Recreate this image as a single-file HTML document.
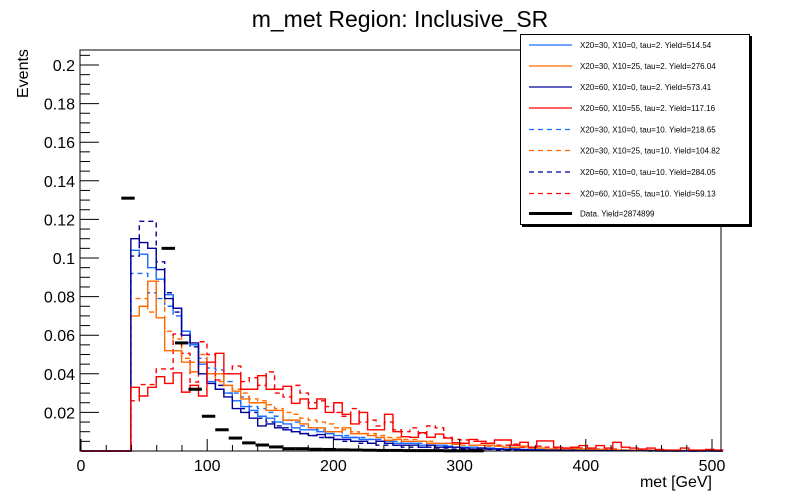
<!DOCTYPE html>
<html><head><meta charset="utf-8"><style>
html,body{margin:0;padding:0;background:#fff;}
svg{display:block;font-family:"Liberation Sans",Arial,sans-serif;}
</style></head><body>
<svg id="chart" width="800" height="500" viewBox="0 0 800 500">
<rect x="0" y="0" width="800" height="500" fill="#fff"/>
<text x="400" y="27" text-anchor="middle" font-size="23">m_met Region: Inclusive_SR</text>
<text transform="translate(28,98) rotate(-90)" font-size="16">Events</text>
<text x="712" y="487" text-anchor="end" font-size="16">met [GeV]</text>
<g id="marks"></g>
<g id="axes"></g>
<rect x="80" y="50" width="641" height="401" fill="none" stroke="#000" stroke-width="1"/>
<g id="legend"></g>
</svg>
<script>
const binLow = 39.5;
const binWidth = 6.7;
const dataBinLow = 0;
const dataBinWidth = 10.64;
const xTicks = [0,100,200,300,400,500];
const yTicks = [0.02,0.04,0.06,0.08,0.1,0.12,0.14,0.16,0.18,0.2];
const yTickLabels = ["0.02","0.04","0.06","0.08","0.1","0.12","0.14","0.16","0.18","0.2"];
const seriesNames = ["X20=30, X10=0, tau=2. Yield=514.54","X20=30, X10=25, tau=2. Yield=276.04","X20=60, X10=0, tau=2. Yield=573.41","X20=60, X10=55, tau=2. Yield=117.16","X20=30, X10=0, tau=10. Yield=218.65","X20=30, X10=25, tau=10. Yield=104.82","X20=60, X10=0, tau=10. Yield=284.05","X20=60, X10=55, tau=10. Yield=59.13"];
const dataName = "Data. Yield=2874899";
const s1 = [.104,.102,.095,.089,.081,.074,.062,.055,.045,.036,.032,.030,.026,.023,.021,.018,.017,.015,.014,.012,.011,.011,.010,.009,.008,.007,.007,.006,.006,.005,.005,.004,.004,.004,.003,.003,.003,.0025,.002,.002,.002,.0015,.0015,.0012,.001,.001,.0008,.0008,.0006,.0005,.0005,.0004,.0004,.0003,.0003,.0003,.0002,.0002,.0002,.0001,.0001,.0001,.0001,0,.0001,0,0,.0001,0,0];
const s2 = [.070,.075,.088,.069,.052,.052,.046,.041,.046,.040,.040,.034,.031,.027,.025,.025,.021,.021,.016,.016,.014,.012,.012,.010,.010,.012,.009,.009,.008,.007,.0055,.006,.005,.005,.005,.004,.004,.004,.0035,.004,.003,.003,.003,.0025,.002,.002,.0025,.0015,.0015,.001,.001,.001,.0015,.001,.0008,.0008,.0005,.0005,.0005,.0003,.0003,.0003,.0002,.0002,.0002,.0001,.0001,.0002,.0001,0];
const s3 = [.110,.108,.105,.094,.079,.074,.060,.056,.040,.035,.032,.028,.022,.020,.017,.013,.014,.012,.011,.010,.009,.008,.0085,.007,.006,.006,.005,.005,.004,.005,.004,.003,.003,.003,.002,.003,.002,.002,.002,.0015,.001,.0015,.001,.001,.0008,.001,.0006,.0005,.0005,.0004,.0004,.0003,.0003,.0002,.0003,.0002,.0002,.0001,.0002,.0001,.0001,.0001,0,.0001,0,.0001,0,0,.0001,0];
const s4 = [.033,.0285,.033,.0385,.035,.0405,.0305,.034,.0285,.046,.0506,.040,.040,.032,.032,.039,.032,.032,.0335,.0247,.027,.022,.027,.020,.025,.019,.014,.020,.011,.011,.019,.010,.0074,.0071,.0095,.0071,.0088,.0067,.0043,.004,.006,.005,.004,.0057,.0057,.003,.0045,.002,.0052,.0052,.002,.0015,.002,.0028,.0015,.0028,.0015,.0045,.002,.0015,.001,.0015,.0008,.0005,.0005,.0015,.0005,.0005,.0008,.0005];
const s5 = [.092,.092,.082,.079,.075,.070,.062,.055,.048,.043,.042,.036,.030,.028,.023,.022,.020,.018,.016,.015,.013,.012,.011,.010,.010,.008,.007,.007,.006,.006,.005,.005,.004,.004,.004,.003,.003,.003,.002,.002,.002,.0015,.0015,.0012,.001,.001,.0008,.0008,.0006,.0005,.0005,.0004,.0004,.0003,.0003,.0003,.0002,.0002,.0002,.0001,.0001,.0001,.0001,0,.0001,0,0,.0001,0,0];
const s6 = [.079,.079,.072,.088,.062,.058,.048,.046,.050,.040,.036,.034,.032,.030,.027,.026,.024,.022,.020,.019,.017,.016,.015,.014,.012,.011,.010,.009,.009,.008,.007,.007,.006,.006,.005,.005,.004,.004,.0035,.003,.003,.003,.0025,.0025,.002,.002,.002,.0015,.0015,.001,.001,.001,.001,.0008,.0008,.0006,.0005,.0005,.0004,.0004,.0003,.0003,.0003,.0002,.0002,.0002,.0001,.0001,.0001,.0001];
const s7 = [.101,.119,.119,.098,.082,.072,.062,.054,.046,.040,.034,.030,.026,.022,.020,.017,.015,.013,.012,.010,.009,.008,.007,.007,.006,.005,.005,.004,.004,.003,.003,.003,.002,.002,.002,.002,.0015,.0015,.001,.001,.001,.0008,.0008,.0006,.0006,.0005,.0005,.0004,.0004,.0003,.0003,.0003,.0002,.0002,.0002,.0002,.0001,.0001,.0001,.0001,.0001,0,.0001,0,0,.0001,0,0,0,0];
const s8 = [.026,.0344,.0344,.0425,.0425,.0606,.0506,.0357,.0566,.050,.0368,.040,.044,.036,.038,.034,.041,.030,.028,.034,.030,.025,.026,.023,.020,.018,.022,.015,.016,.013,.015,.011,.010,.012,.009,.013,.012,.007,.006,.0057,.005,.004,.004,.003,.003,.0035,.002,.002,.0025,.002,.0015,.0015,.001,.0015,.001,.001,.0008,.001,.0005,.0005,.0005,.0005,.0003,.0003,.0003,.0002,.0002,.0002,.0001,.0001];
const dataValues = [null,null,null,.131,null,null,.105,.056,.032,.018,.011,.0067,.0042,.0031,.0021,.0012,.0012,.0009,.0008,.0006,.0005,.0004,.0003,.0003,.0002,.0002,.0002,.0001,.0001,.0001];

const X0 = 81, XS = 1.262, Y0 = 451, YS = 1930;
function xPos(v){ return X0 + v*XS; }
function yPos(v){ return Y0 - v*YS; }
const NS = "http://www.w3.org/2000/svg";
const marks = document.getElementById('marks');
const axes = document.getElementById('axes');
const legend = document.getElementById('legend');
function mk(tag, parent){ const e = document.createElementNS(NS, tag); parent.appendChild(e); return e; }

const colors = ["#1a6bff","#ff6a00","#000099","#ff0000","#1a6bff","#ff6a00","#000099","#ff0000"];
const allSeries = [s1,s2,s3,s4,s5,s6,s7,s8];
const seriesIds = ["s1","s2","s3","s4","s5","s6","s7","s8"];

function histPath(vals){
  let d = "M" + xPos(0) + "," + yPos(0) + " H" + xPos(binLow).toFixed(2);
  for (let i=0;i<vals.length;i++){
    d += " V" + yPos(vals[i]).toFixed(2) + " H" + xPos(binLow + (i+1)*binWidth).toFixed(2);
  }
  d += " V" + yPos(0);
  return d;
}
const order = [4,5,6,7,0,1,2,3];
for (const k of order){
  const p = mk('path', marks);
  p.setAttribute('d', histPath(allSeries[k]));
  p.setAttribute('fill','none');
  p.setAttribute('stroke', colors[k]);
  p.setAttribute('stroke-width','1.4');
  if (k>=4) p.setAttribute('stroke-dasharray','5,4');
  
  
}
dataValues.forEach((v,i)=>{
  if (v===null) return;
  const l = mk('line', marks);
  l.setAttribute('x1', xPos(dataBinLow + i*dataBinWidth));
  l.setAttribute('x2', xPos(dataBinLow + (i+1)*dataBinWidth));
  l.setAttribute('y1', yPos(v)); l.setAttribute('y2', yPos(v));
  l.setAttribute('stroke','#000'); l.setAttribute('stroke-width','3');
  
  
});

for (let g=0; g<=500; g+=20){
  const major = (g%100===0);
  const t = mk('line', axes);
  t.setAttribute('x1', xPos(g)); t.setAttribute('x2', xPos(g));
  t.setAttribute('y1', 451); t.setAttribute('y2', major?439:445);
  t.setAttribute('stroke','#000'); t.setAttribute('stroke-width','1');
  
  
}
xTicks.forEach(v=>{
  const t = mk('text', axes);
  t.setAttribute('x', xPos(v)); t.setAttribute('y', 471);
  t.setAttribute('text-anchor','middle'); t.setAttribute('font-size','16');
  t.textContent = String(v);
  
  
});
for (let k=1; k<=41; k++){
  const v = k*0.005;
  const major = (k%4===0);
  const t = mk('line', axes);
  t.setAttribute('x1', 80); t.setAttribute('x2', major?99:90);
  t.setAttribute('y1', yPos(v)); t.setAttribute('y2', yPos(v));
  t.setAttribute('stroke','#000'); t.setAttribute('stroke-width','1');
  
  
}
yTicks.forEach((v,i)=>{
  const t = mk('text', axes);
  t.setAttribute('x', 75); t.setAttribute('y', yPos(v)+6);
  t.setAttribute('text-anchor','end'); t.setAttribute('font-size','16');
  t.textContent = yTickLabels[i];
  
  
});

const shadow = mk('rect', legend);
shadow.setAttribute('x',522); shadow.setAttribute('y',36); shadow.setAttribute('width',230); shadow.setAttribute('height',191);
shadow.setAttribute('fill','#000');


const box = mk('rect', legend);
box.setAttribute('x',520.5); box.setAttribute('y',34.5); box.setAttribute('width',229); box.setAttribute('height',190);
box.setAttribute('fill','#fff'); box.setAttribute('stroke','#000'); box.setAttribute('stroke-width','1');


const entryY = [45,66,87,108,129.5,150.5,172,193.5];
seriesNames.forEach((n,k)=>{
  const l = mk('line', legend);
  l.setAttribute('x1',529); l.setAttribute('x2',572); l.setAttribute('y1',entryY[k]); l.setAttribute('y2',entryY[k]);
  l.setAttribute('stroke', colors[k]); l.setAttribute('stroke-width','1.2');
  if (k>=4) l.setAttribute('stroke-dasharray','5,4');
  
  
  const t = mk('text', legend);
  t.setAttribute('x',580); t.setAttribute('y',entryY[k]+3);
  t.setAttribute('font-size','8');
  t.textContent = n;
  
  
});
const dl = mk('line', legend);
dl.setAttribute('x1',529); dl.setAttribute('x2',572); dl.setAttribute('y1',213.5); dl.setAttribute('y2',213.5);
dl.setAttribute('stroke','#000'); dl.setAttribute('stroke-width','3');


const dt = mk('text', legend);
dt.setAttribute('x',580); dt.setAttribute('y',216.5); dt.setAttribute('font-size','8');
dt.textContent = dataName;


</script>
</body></html>
